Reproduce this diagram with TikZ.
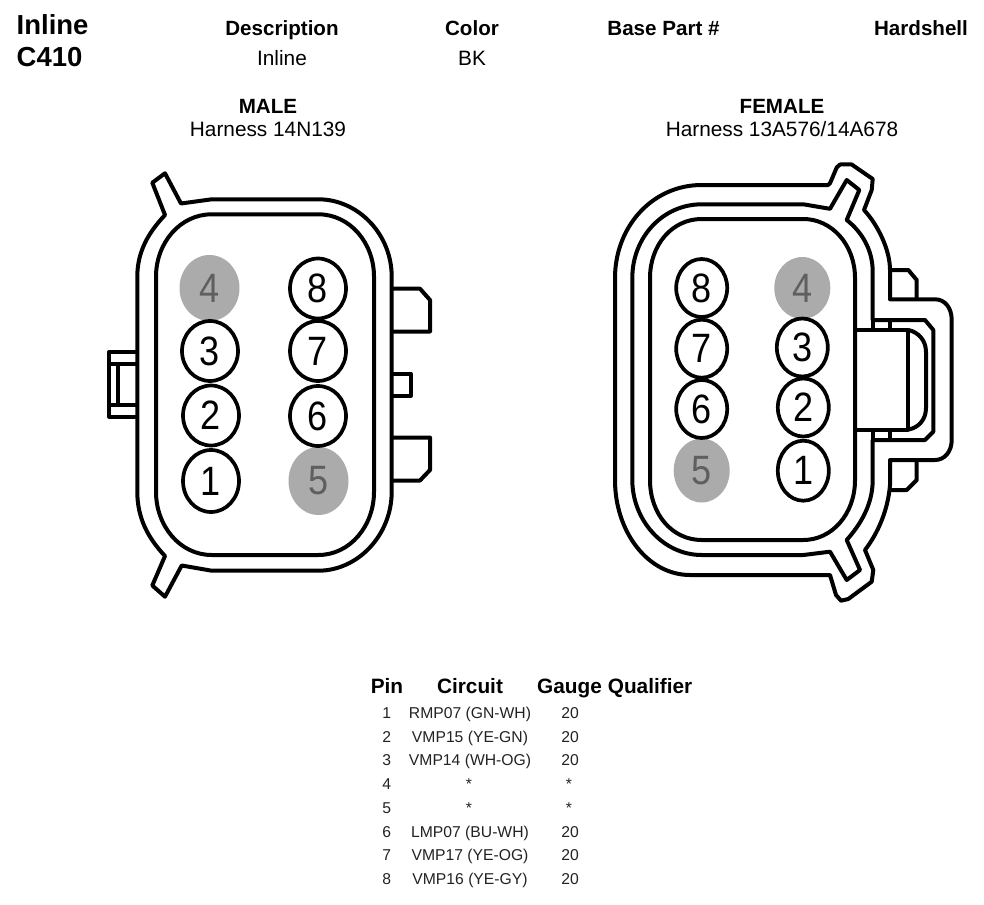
\documentclass[tikz,border=0pt]{standalone}
\usepackage{graphicx}
\usepackage{fontspec}
\setmainfont{Liberation Sans}
\usetikzlibrary{shapes.geometric}
\newcommand{\fs}[1]{\fontsize{#1}{#1}\selectfont}
\newcommand{\pinnum}[1]{\raisebox{-1.5pt}{\scalebox{.88}[1]{\fs{41}#1}}}
\tikzset{
  wall/.style={draw=black,line width=4pt,line join=round},
  pin/.style={ellipse,draw=black,line width=3.7pt,inner sep=0pt,text=black},
  blocked/.style={ellipse,fill=pingray,draw=none,inner sep=0pt,text=digitgray},
  title/.style={anchor=base west,inner sep=0pt,font=\fs{27.5}\bfseries},
  headcell/.style={anchor=base,inner sep=0pt,font=\fs{20.6}\bfseries},
  valcell/.style={anchor=base,inner sep=0pt,font=\fs{20.8}},
  tablehead/.style={anchor=base,inner sep=0pt,font=\fs{20.8}\bfseries},
  tablecell/.style={anchor=base,inner sep=0pt,text=cellgray,font=\fs{15.7}},
}
\definecolor{pingray}{HTML}{ABABAB}
\definecolor{digitgray}{HTML}{5F5F5F}
\definecolor{cellgray}{HTML}{222222}
\begin{document}
\begin{tikzpicture}[x=1pt,y=-1pt]
\useasboundingbox (0,0) rectangle (984,904);
% header
\node[title] (t1) at (16.5,35) {Inline};
\node[title] (t2) at (16.5,66.7) {C410};
\node[headcell] (h1) at (282,36) {Description};
\node[headcell] (h2) at (472,36) {Color};
\node[headcell] (h3) at (663.5,36) {Base Part \#};
\node[headcell] (h4) at (921,36) {Hardshell};
\node[valcell] (v1) at (282,65.7) {Inline};
\node[valcell] (v2) at (472,65.7) {BK};
\node[headcell] (m1) at (268,114) {MALE};
\node[valcell] (m2) at (268,136.7) {Harness 14N139};
\node[headcell] (f1) at (782,114) {FEMALE};
\node[valcell] (f2) at (782,136.7) {Harness 13A576/14A678};
% male connector
\draw[wall] (211.7,199.3) -- (318.3,199.3)
  .. controls (358,199.3) and (391.7,234) .. (391.7,276.7)
  -- (391.7,491.7)
  .. controls (391.7,535) and (358,570.7) .. (318.3,570.7)
  -- (211.7,570.7) -- (181.7,565.5) -- (165,596.7) -- (152.3,585.5) -- (165,556)
  .. controls (148,538) and (137.3,518) .. (137.3,491.7)
  -- (137.3,276.7)
  .. controls (137.3,252) and (148,233) .. (165,215)
  -- (152.3,182.7) -- (165,173.3) -- (181,203.5) -- cycle;
\draw[wall] (211.7,214.3) -- (318.3,214.3)
  .. controls (350,214.3) and (374,243) .. (374,276.7)
  -- (374,491.7)
  .. controls (374,526) and (350,555) .. (318.3,555)
  -- (211.7,555)
  .. controls (180,555) and (156,526) .. (156,491.7)
  -- (156,276.7)
  .. controls (156,243) and (180,214.3) .. (211.7,214.3) -- cycle;
\draw[wall] (391.7,288.7) -- (420,288.7) -- (430,300) -- (430,331.5) -- (391.7,331.5);
\draw[wall] (391.7,373.5) -- (410.7,373.5) -- (410.7,396) -- (391.7,396);
\draw[wall] (391.7,437.5) -- (430,437.5) -- (430,470) -- (420,480.5) -- (391.7,480.5);
\draw[wall] (137.3,352) -- (109.3,352) -- (109.3,416.7) -- (137.3,416.7);
\draw[wall] (109.3,363.5) -- (137.3,363.5);
\draw[wall] (109.3,405) -- (137.3,405);
\draw[wall] (118.3,363.5) -- (118.3,405);
% male pins
\node[blocked,minimum width=60pt,minimum height=66pt] (ma4) at (209.5,288) {\pinnum{4}};
\node[blocked,minimum width=60pt,minimum height=68pt] (ma5) at (318.5,481) {\pinnum{5}};
\node[pin,minimum width=56pt,minimum height=60pt] (ma3) at (210,351) {\pinnum{3}};
\node[pin,minimum width=56pt,minimum height=60pt] (ma2) at (211,415.5) {\pinnum{2}};
\node[pin,minimum width=56pt,minimum height=62pt] (ma1) at (211,481) {\pinnum{1}};
\node[pin,minimum width=56pt,minimum height=60pt] (ma8) at (318,288.5) {\pinnum{8}};
\node[pin,minimum width=56pt,minimum height=60pt] (ma7) at (318,351) {\pinnum{7}};
\node[pin,minimum width=56pt,minimum height=60pt] (ma6) at (318,416) {\pinnum{6}};
% female connector: outer shell
\draw[wall] (701.7,185) -- (828,185) -- (830,183.3) -- (836.7,167.5) -- (840,164.5) -- (851.7,164.5)
  -- (872.7,179) -- (871.7,190) -- (864,210)
  .. controls (878,225) and (890,250) .. (890,270)
  -- (890,299.3) -- (935,299.3)
  .. controls (945,299.3) and (951.7,308) .. (951.7,320)
  -- (951.7,440)
  .. controls (951.7,451) and (945,460) .. (935,460)
  -- (890,460) -- (890,485)
  .. controls (888,510) and (878,533) .. (865,550)
  -- (873.3,570) -- (871.7,581.7) -- (848.3,599) -- (841,600.7) -- (836,595) -- (830,575)
  -- (690,575)
  .. controls (648,575) and (615,532) .. (615,480)
  -- (615,278)
  .. controls (615,227) and (652,185) .. (701.7,185) -- cycle;
% female connector: middle wall
\draw[wall] (701.7,204.3) -- (803.3,204.3) -- (830,208.8) -- (846.7,180) -- (859.3,190) -- (846.7,220)
  .. controls (862,232) and (872.7,250) .. (872.7,271.7)
  -- (872.7,320) -- (925,320) -- (933.3,330) -- (933.3,431.7) -- (925,440) -- (872.7,440)
  -- (872.7,480)
  .. controls (872.7,505) and (860,525) .. (846.7,540)
  -- (860,570) -- (846.7,580) -- (830,551.7) -- (803.3,555) -- (701.7,555)
  .. controls (663,555) and (632.3,520) .. (632.3,480)
  -- (632.3,278)
  .. controls (632.3,237) and (663,204.3) .. (701.7,204.3) -- cycle;
% female connector: inner wall
\draw[wall] (701.7,219) -- (803.3,219)
  .. controls (832,219) and (855,245) .. (855,278)
  -- (855,480)
  .. controls (855,514) and (832,540) .. (803.3,540)
  -- (701.7,540)
  .. controls (672,540) and (650,514) .. (650,480)
  -- (650,278)
  .. controls (650,245) and (672,219) .. (701.7,219) -- cycle;
% female latch and side tabs
\draw[wall] (855,330) -- (908.3,330) -- (908.3,429.5) -- (855,429.5);
\draw[wall] (908.3,330)
  .. controls (918,332) and (926,340) .. (926,352)
  -- (926,408)
  .. controls (926,420) and (918,428) .. (908.3,429.5);
\draw[wall] (872.7,320) -- (872.7,330);
\draw[wall] (890,320) -- (890,330);
\draw[wall] (872.7,429.5) -- (872.7,440);
\draw[wall] (890,429.5) -- (890,440);
\draw[wall] (890,270) -- (908.3,270) -- (916.7,280) -- (916.7,299.3);
\draw[wall] (916.7,460) -- (916.7,480) -- (906.7,490) -- (889,490);
% female pins
\node[blocked,minimum width=56pt,minimum height=62pt] (fe4) at (802.3,288) {\pinnum{4}};
\node[blocked,minimum width=56pt,minimum height=64pt] (fe5) at (701.7,470.5) {\pinnum{5}};
\node[pin,minimum width=51pt,minimum height=58pt] (fe8) at (701.7,288) {\pinnum{8}};
\node[pin,minimum width=51pt,minimum height=58pt] (fe7) at (701.7,348.7) {\pinnum{7}};
\node[pin,minimum width=51pt,minimum height=58pt] (fe6) at (701.7,409) {\pinnum{6}};
\node[pin,minimum width=51pt,minimum height=58pt] (fe3) at (802.3,347.5) {\pinnum{3}};
\node[pin,minimum width=51pt,minimum height=58pt] (fe2) at (803.3,407.5) {\pinnum{2}};
\node[pin,minimum width=51pt,minimum height=60pt] (fe1) at (803.3,470.7) {\pinnum{1}};
% table
\node[tablehead] (tp) at (387,693.3) {Pin};
\node[tablehead] (tc) at (470,693.3) {Circuit};
\node[tablehead] (tg) at (569.5,693.3) {Gauge};
\node[tablehead] (tq) at (650,693.3) {Qualifier};
\node[tablecell] (p1) at (386.7,718.3) {1};
\node[tablecell] (c1) at (470,718.3) {RMP07 (GN-WH)};
\node[tablecell] (g1) at (570,718.3) {20};
\node[tablecell] (p2) at (386.7,742.3) {2};
\node[tablecell] (c2) at (470,742.3) {VMP15 (YE-GN)};
\node[tablecell] (g2) at (570,742.3) {20};
\node[tablecell] (p3) at (386.7,765.9) {3};
\node[tablecell] (c3) at (470,765.9) {VMP14 (WH-OG)};
\node[tablecell] (g3) at (570,765.9) {20};
\node[tablecell] (p4) at (386.7,789.9) {4};
\node[tablecell] (c4) at (469,789.9) {*};
\node[tablecell] (g4) at (569,789.9) {*};
\node[tablecell] (p5) at (386.7,813.3) {5};
\node[tablecell] (c5) at (469,813.3) {*};
\node[tablecell] (g5) at (569,813.3) {*};
\node[tablecell] (p6) at (386.7,837.9) {6};
\node[tablecell] (c6) at (470,837.9) {LMP07 (BU-WH)};
\node[tablecell] (g6) at (570,837.9) {20};
\node[tablecell] (p7) at (386.7,860.9) {7};
\node[tablecell] (c7) at (470,860.9) {VMP17 (YE-OG)};
\node[tablecell] (g7) at (570,860.9) {20};
\node[tablecell] (p8) at (386.7,884.9) {8};
\node[tablecell] (c8) at (470,884.9) {VMP16 (YE-GY)};
\node[tablecell] (g8) at (570,884.9) {20};
\end{tikzpicture}
\end{document}
